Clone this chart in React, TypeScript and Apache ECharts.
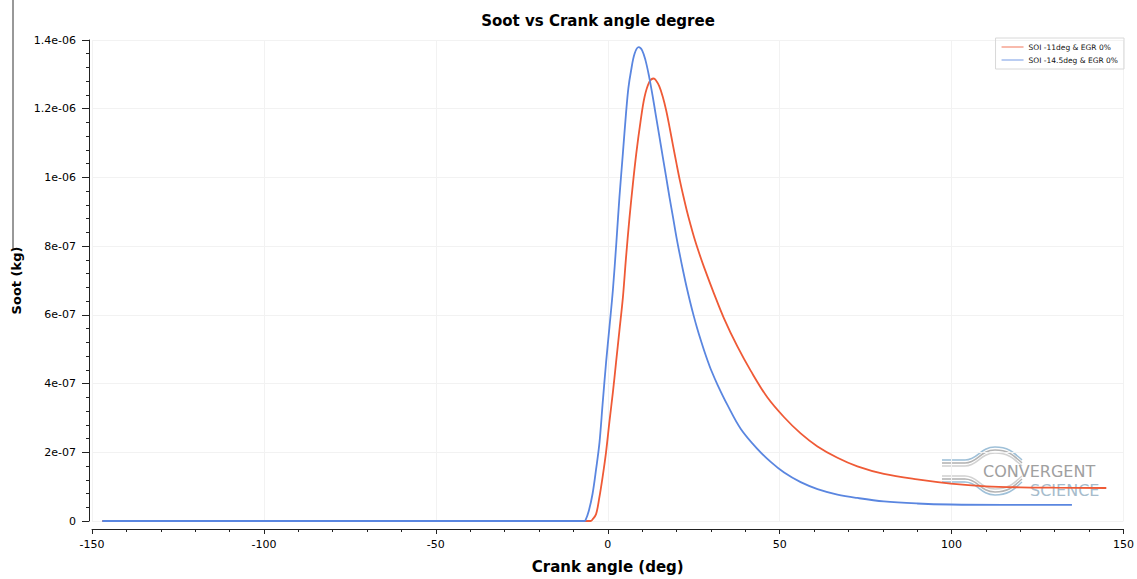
import React, { useEffect, useRef } from "react";
import * as echarts from "echarts";

const TITLE = "Soot vs Crank angle degree";
const X_NAME = "Crank angle (deg)";
const Y_NAME = "Soot (kg)";
const SERIES_NAMES = ["SOI -11deg & EGR 0%", "SOI -14.5deg & EGR 0%"];

// SOI -11deg (red): crank angle (deg) and soot (x1e-6 kg)
const redAngles = [
  -147, -5, -4.4, -3.4, -2.5, -1.5, -0.5, 0.5, 1.5, 2.4, 3.4, 4.4, 5.3, 6.3, 7.3, 8.3, 9.5,
  10.7, 12.1, 13.3, 14, 15, 16, 17, 18, 19, 20, 21, 22, 23, 24, 25.1, 26.5, 28, 30.9, 33.8,
  37.7, 41.6, 46.4, 51.3, 56.1, 61, 66.8, 72.6, 80.3, 90, 99.7, 110, 120, 130, 145,
];
const redSoot = [
  0, 0, 0.005, 0.02, 0.065, 0.128, 0.2, 0.29, 0.375, 0.46, 0.555, 0.65, 0.765, 0.88, 0.98,
  1.07, 1.16, 1.234, 1.278, 1.288, 1.283, 1.265, 1.235, 1.195, 1.145, 1.092, 1.04, 0.99,
  0.945, 0.903, 0.865, 0.826, 0.782, 0.739, 0.662, 0.59, 0.508, 0.437, 0.36, 0.302, 0.255,
  0.217, 0.184, 0.159, 0.137, 0.121, 0.109, 0.101, 0.098, 0.097, 0.096,
];

// SOI -14.5deg (blue)
const blueAngles = [
  -147, -7, -6.5, -5.5, -4.4, -3.4, -2.4, -1.5, -0.5, 0.5, 1.5, 2.5, 3.4, 4.4, 5.3, 6.0, 6.8,
  7.8, 9.0, 10, 11, 12, 13, 14, 15, 16, 17, 18, 19, 20, 21, 22, 23, 24, 25, 26, 27, 28, 29,
  30, 32, 34.8, 38.7, 43.5, 47.4, 51.3, 56.1, 61, 66.8, 72.6, 80.3, 90, 99.7, 115, 135,
];
const blueSoot = [
  0, 0, 0.002, 0.03, 0.08, 0.15, 0.229, 0.34, 0.46, 0.565, 0.673, 0.81, 0.943, 1.07, 1.185,
  1.26, 1.312, 1.36, 1.379, 1.37, 1.34, 1.295, 1.24, 1.18, 1.12, 1.06, 1.0, 0.94, 0.883,
  0.825, 0.773, 0.724, 0.678, 0.636, 0.597, 0.561, 0.528, 0.497, 0.468, 0.441, 0.395, 0.338,
  0.268, 0.21, 0.172, 0.141, 0.113, 0.093, 0.077, 0.067, 0.057, 0.051, 0.048, 0.047, 0.047,
];

const SCALE = 1e-6;

const fmtY = (v: number) => {
  if (Math.abs(v) < 1e-15) return "0";
  const s = Number(v.toPrecision(3)).toExponential();
  return s.replace(/e([+-])(\d+)$/, (_m: string, sg: string, d: string) => "e" + sg + d.padStart(2, "0"));
};

const swoosh = () => {
  const els: any[] = [];
  const colors = ["#9fc0d8", "#b4b4b4", "#d2d2d2"];
  [0, 3, 6].forEach((k, i) => {
    const c = colors[i];
    const y = 460 + k;
    els.push({ type: "line", z: 0, shape: { x1: 942, y1: y, x2: 965, y2: y }, style: { stroke: c, lineWidth: 1.6 } });
    els.push({ type: "bezierCurve", z: 0, shape: { x1: 965, y1: y, cpx1: 978, cpy1: y, cpx2: 980, cpy2: y - 13, x2: 995, y2: y - 13 }, style: { stroke: c, lineWidth: 1.6, fill: null } });
    els.push({ type: "bezierCurve", z: 0, shape: { x1: 995, y1: y - 13, cpx1: 1010, cpy1: y - 13, cpx2: 1015, cpy2: y - 6, x2: 1022, y2: y }, style: { stroke: c, lineWidth: 1.6, fill: null } });
  });
  [0, 3, 6].forEach((k, i) => {
    const c = colors[i];
    const y = 482 - k;
    els.push({ type: "line", z: 0, shape: { x1: 942, y1: y, x2: 965, y2: y }, style: { stroke: c, lineWidth: 1.6 } });
    els.push({ type: "bezierCurve", z: 0, shape: { x1: 965, y1: y, cpx1: 978, cpy1: y, cpx2: 980, cpy2: y + 13, x2: 995, y2: y + 13 }, style: { stroke: c, lineWidth: 1.6, fill: null } });
    els.push({ type: "bezierCurve", z: 0, shape: { x1: 995, y1: y + 13, cpx1: 1010, cpy1: y + 13, cpx2: 1015, cpy2: y + 6, x2: 1022, y2: y }, style: { stroke: c, lineWidth: 1.6, fill: null } });
  });
  return els;
};

export default function App() {
  const ref = useRef<HTMLDivElement>(null);
  useEffect(() => {
    if (!ref.current) return;
    const chart = echarts.init(ref.current, undefined, { renderer: "svg" });
    const red = redAngles.map((a, i) => [a, redSoot[i] * SCALE]);
    const blue = blueAngles.map((a, i) => [a, blueSoot[i] * SCALE]);
    chart.setOption({
      animation: false,
      backgroundColor: "#ffffff",
      title: {
        text: TITLE,
        left: 593,
        top: 8,
        textAlign: "center",
        textStyle: { fontFamily: "DejaVu Sans", fontWeight: "bold", fontSize: 15, color: "#000" },
      },
      legend: {
        orient: "vertical",
        right: 13,
        top: 38,
        padding: [5, 6],
        itemGap: 5,
        itemWidth: 22,
        itemHeight: 1.5,
        icon: "rect",
        borderColor: "#d8d8d8",
        borderWidth: 1,
        itemStyle: { opacity: 0.55 },
        textStyle: { fontFamily: "DejaVu Sans", fontSize: 7.5, color: "#111" },
        data: SERIES_NAMES,
      },
      grid: { left: 92, right: 13, top: 40, bottom: 58, containLabel: false },
      xAxis: {
        type: "value",
        min: -150,
        max: 150,
        interval: 50,
        offset: 8,
        name: X_NAME,
        nameLocation: "middle",
        nameGap: 30,
        nameTextStyle: { fontFamily: "DejaVu Sans", fontWeight: "bold", fontSize: 15, color: "#000" },
        axisLine: { show: true, onZero: false, lineStyle: { color: "#222", width: 1 } },
        axisTick: { show: true, length: 5, lineStyle: { color: "#222" } },
        minorTick: { show: true, splitNumber: 5, length: 3, lineStyle: { color: "#222" } },
        axisLabel: { margin: 10, fontFamily: "DejaVu Sans", fontSize: 11, color: "#000" },
        splitLine: { show: true, lineStyle: { color: "#f2f2f2", width: 1 } },
      },
      yAxis: {
        type: "value",
        min: 0,
        max: 1.4e-6,
        interval: 2e-7,
        offset: 3,
        name: Y_NAME,
        nameLocation: "middle",
        nameRotate: 90,
        nameGap: 62,
        nameTextStyle: { fontFamily: "DejaVu Sans", fontWeight: "bold", fontSize: 13, color: "#000" },
        axisLine: { show: true, onZero: false, lineStyle: { color: "#222", width: 1 } },
        axisTick: { show: true, length: 7, lineStyle: { color: "#222" } },
        minorTick: { show: true, splitNumber: 5, length: 3, lineStyle: { color: "#222" } },
        axisLabel: { margin: 13, fontFamily: "DejaVu Sans", fontSize: 11, color: "#000", formatter: fmtY },
        splitLine: { show: true, lineStyle: { color: "#f2f2f2", width: 1 } },
      },
      graphic: {
        elements: [
          { type: "line", z: 0, shape: { x1: 13, y1: 0, x2: 13, y2: 250 }, style: { stroke: "#333", lineWidth: 1 } },
          ...swoosh(),
          {
            type: "text",
            z: 0,
            x: 983,
            y: 471.5,
            style: { text: "CONVERGENT", fontFamily: "DejaVu Sans", fontSize: 16, fill: "#a0a0a0", verticalAlign: "middle" },
          },
          {
            type: "text",
            z: 0,
            x: 1030,
            y: 490.5,
            style: { text: "SCIENCE", fontFamily: "DejaVu Sans", fontSize: 16, fill: "#a6bccc", verticalAlign: "middle" },
          },
        ],
      },
      series: [
        {
          name: SERIES_NAMES[0],
          type: "line",
          data: red,
          showSymbol: false,
          symbol: "none",
          smooth: 0.35,
          z: 5,
          lineStyle: { color: "#ef5a36", width: 1.8 },
          itemStyle: { color: "#ef5a36" },
        },
        {
          name: SERIES_NAMES[1],
          type: "line",
          data: blue,
          showSymbol: false,
          symbol: "none",
          smooth: 0.35,
          z: 6,
          lineStyle: { color: "#5a86e0", width: 1.8 },
          itemStyle: { color: "#5a86e0" },
        },
      ],
    });
    return () => chart.dispose();
  }, []);
  return (
    <div
      ref={ref}
      style={{ position: "fixed", left: 0, top: 0, width: 1137, height: 579 }}
    />
  );
}
